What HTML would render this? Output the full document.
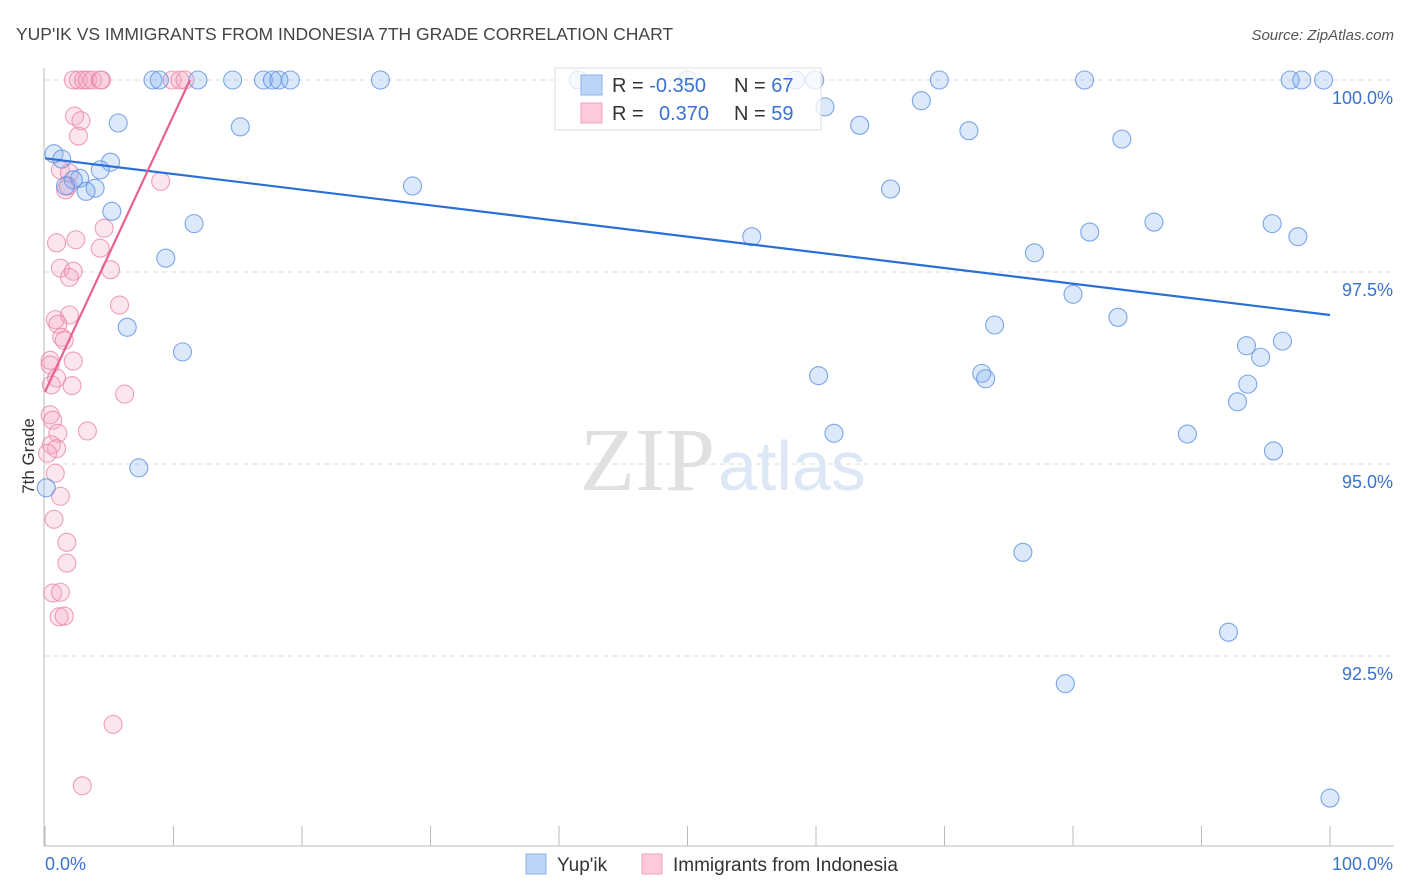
<!DOCTYPE html>
<html><head><meta charset="utf-8"><style>
body{margin:0;background:#fff;font-family:"Liberation Sans",sans-serif;}
#wrap{position:relative;width:1406px;height:892px;overflow:hidden;}
svg text{font-family:"Liberation Sans",sans-serif;}
</style></head><body>
<div id="wrap">
<svg id="chart" width="1406" height="892">
<text x="16" y="40" font-size="17.5" fill="#444">YUP'IK VS IMMIGRANTS FROM INDONESIA 7TH GRADE CORRELATION CHART</text>
<text x="1394" y="40" font-size="15" fill="#555" font-style="italic" text-anchor="end">Source: ZipAtlas.com</text>
<text x="34" y="456" font-size="17" fill="#333" text-anchor="middle" transform="rotate(-90 34 456)">7th Grade</text>
<g id="grid"></g>
<text x="715" y="490" font-size="90" fill="#e0e0e0" text-anchor="end" style="font-family:'Liberation Serif',serif">ZIP</text>
<text x="718" y="490" font-size="70" fill="#dde8f6">atlas</text>
<g id="pts"></g>
<g id="lines"></g>
<g>
<rect x="555" y="68" width="266" height="62" fill="rgba(255,255,255,0.75)" stroke="#ddd"/>
<rect x="581" y="75" width="21" height="20" fill="#bcd5f7" stroke="#8ab2ea"/>
<rect x="581" y="103" width="21" height="20" fill="#fccadb" stroke="#f0a0bb"/>
<text x="612" y="92" font-size="20" fill="#333">R = <tspan fill="#3a72d0">-0.350</tspan></text>
<text x="734" y="92" font-size="20" fill="#333">N = <tspan fill="#3a72d0">67</tspan></text>
<text x="612" y="120" font-size="20" fill="#333">R = <tspan x="659" fill="#3a72d0">0.370</tspan></text>
<text x="734" y="120" font-size="20" fill="#333">N = <tspan fill="#3a72d0">59</tspan></text>
</g>
<g>
<rect x="526" y="854" width="20" height="20" fill="#bcd5f7" stroke="#8ab2ea"/>
<text x="557" y="871" font-size="19" fill="#333">Yup'ik</text>
<rect x="642" y="854" width="20" height="20" fill="#fccadb" stroke="#f0a0bb"/>
<text x="673" y="871" font-size="19" fill="#333">Immigrants from Indonesia</text>
</g>
</svg>
</div>
<script>
const yTicks=[100,97.5,95,92.5];
const yTickLabels=["100.0%","97.5%","95.0%","92.5%"];
const xTickVals=[0,10,20,30,40,50,60,70,80,90,100];
const blueX=[8.4,8.9,11.9,14.6,17.0,17.7,18.2,19.1,26.1,41.5,50.0,58.4,59.9,69.6,80.9,96.9,97.8,99.5,5.7,15.2,60.7,68.2,63.4,71.9,83.8,0.7,1.3,5.1,4.3,2.7,2.2,3.9,3.2,1.6,28.6,65.8,5.2,11.6,55.0,86.3,95.5,81.3,97.5,9.4,77.0,80.0,6.4,73.9,83.5,10.7,93.5,96.3,94.6,60.2,72.9,73.2,93.6,92.8,61.4,88.9,95.6,7.3,0.1,76.1,92.1,79.4,100];
const blueY=[100,100,100,100,100,100,100,100,100,100,100,100,100,100,100,100,100,100,99.44,99.39,99.65,99.73,99.41,99.34,99.23,99.04,98.97,98.93,98.83,98.72,98.70,98.59,98.55,98.62,98.62,98.58,98.29,98.13,97.96,98.15,98.13,98.02,97.96,97.68,97.75,97.21,96.78,96.81,96.91,96.46,96.54,96.60,96.39,96.15,96.18,96.11,96.04,95.81,95.40,95.39,95.17,94.95,94.69,93.85,92.81,92.14,90.65];
const pinkX=[2.2,2.6,3.0,3.3,3.7,4.3,4.4,9.9,10.5,10.9,2.3,2.8,2.6,1.2,1.9,1.6,1.8,9.0,4.6,0.9,2.4,4.3,1.2,2.2,1.9,5.1,5.8,1.9,0.8,1.0,1.3,1.5,0.4,0.4,2.2,0.9,0.5,2.1,6.2,0.4,0.6,1.0,3.3,0.5,0.9,0.2,0.8,1.2,0.7,1.7,1.7,0.6,1.2,1.1,1.5,5.3,2.9];
const pinkY=[100,100,100,100,100,100,100,100,100,100,99.53,99.47,99.27,98.83,98.79,98.57,98.62,98.68,98.07,97.88,97.92,97.81,97.55,97.51,97.43,97.53,97.07,96.94,96.88,96.82,96.65,96.61,96.35,96.29,96.34,96.12,96.03,96.02,95.91,95.64,95.57,95.40,95.43,95.25,95.20,95.14,94.88,94.58,94.28,93.98,93.71,93.32,93.33,93.01,93.02,91.61,90.81];
const blueTrend=[[0,98.98],[100,96.94]];
const pinkTrend=[[0,95.94],[11.28,100]];

const X=v=>45+v*12.85;
const Y=v=>80+(100-v)*76.8;
const NS="http://www.w3.org/2000/svg";
function mk(tag,attrs,parent){const e=document.createElementNS(NS,tag);for(const k in attrs)e.setAttribute(k,attrs[k]);parent.appendChild(e);return e;}
const grid=document.getElementById('grid');
yTicks.forEach((t,i)=>{
  const l=mk('line',{x1:45,x2:1394,y1:Y(t),y2:Y(t),stroke:'#ddd','stroke-dasharray':'5,4'},grid);
  
  
  const tx=mk('text',{x:1393,y:Y(t)+24,'font-size':18,fill:'#3a72d0','text-anchor':'end'},grid);
  tx.textContent=yTickLabels[i];
  
  
});
let a=mk('line',{x1:44,x2:44,y1:68,y2:846,stroke:'#bbb'},grid);


a=mk('line',{x1:44,x2:1394,y1:846,y2:846,stroke:'#bbb'},grid);


xTickVals.forEach(v=>{
  const l=mk('line',{x1:X(v),x2:X(v),y1:826,y2:846,stroke:'#bbb'},grid);
  
  
});
let t=mk('text',{x:45,y:870,'font-size':18,fill:'#3a72d0'},grid);t.textContent='0.0%';


t=mk('text',{x:1393,y:870,'font-size':18,fill:'#3a72d0','text-anchor':'end'},grid);t.textContent='100.0%';



const pts=document.getElementById('pts');
pinkX.forEach((x,i)=>{
  const c=mk('circle',{cx:X(x),cy:Y(pinkY[i]),r:9,fill:'rgba(246,165,195,0.28)',stroke:'rgba(232,130,165,0.75)','stroke-width':1.1},pts);
  
  
});
blueX.forEach((x,i)=>{
  const c=mk('circle',{cx:X(x),cy:Y(blueY[i]),r:9,fill:'rgba(130,175,240,0.28)',stroke:'rgba(95,145,225,0.8)','stroke-width':1.1},pts);
  
  
});
const lines=document.getElementById('lines');
let ln=mk('line',{x1:X(blueTrend[0][0]),y1:Y(blueTrend[0][1]),x2:X(blueTrend[1][0]),y2:Y(blueTrend[1][1]),stroke:'#2a6fd6','stroke-width':2.2},lines);


ln=mk('line',{x1:X(pinkTrend[0][0]),y1:Y(pinkTrend[0][1]),x2:X(pinkTrend[1][0]),y2:Y(pinkTrend[1][1]),stroke:'#e8628e','stroke-width':2.2},lines);


</script>
</body></html>
